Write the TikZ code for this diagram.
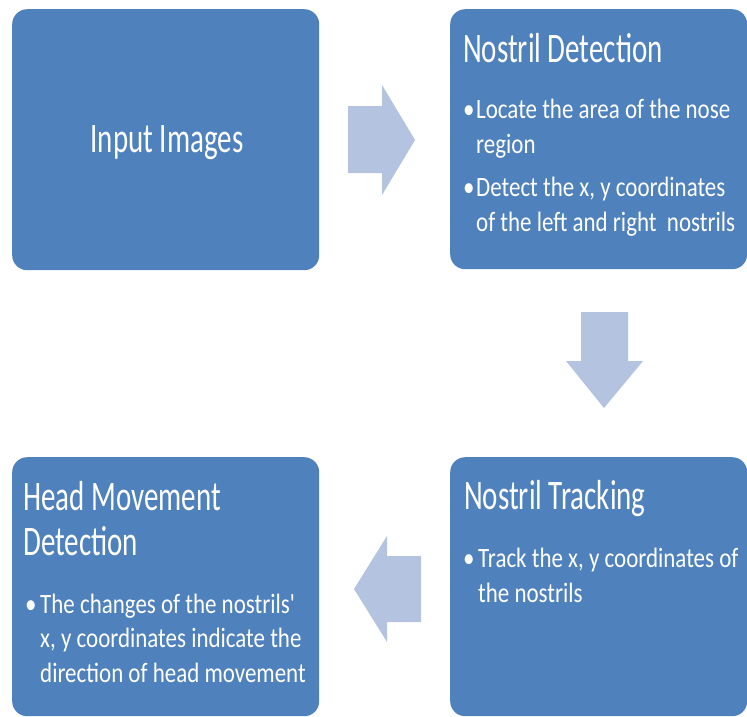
\documentclass[tikz,border=0pt]{standalone}
\usepackage{fontspec}
\newfontfamily\titlefont[FakeStretch=0.69]{Carlito}
\newfontfamily\bodyfont[FakeStretch=0.82]{Carlito}
\definecolor{boxblue}{RGB}{79,129,189}
\definecolor{arrowblue}{RGB}{179,195,224}
\begin{document}
\begin{tikzpicture}[x=1pt,y=-1pt,
  box/.style={fill=boxblue, rounded corners=15pt, anchor=north west, inner sep=0pt},
  ttl/.style={anchor=base west, inner sep=0pt, text=white, font=\titlefont\fontsize{42}{45}\selectfont},
  bul/.style={anchor=base west, inner sep=0pt, text=white, font=\bodyfont\fontsize{28}{35}\selectfont},
  arr/.style={fill=arrowblue}]
\useasboundingbox (0,0) rectangle (747,716);
% boxes
\node[box, minimum width=307pt, minimum height=261pt] (b1) at (12,9) {};
\node[box, minimum width=297pt, minimum height=260pt] (b2) at (450,9) {};
\node[box, minimum width=297pt, minimum height=259pt] (b4) at (450,457) {};
\node[box, minimum width=307pt, minimum height=259pt] (b3) at (12,457) {};
% arrows
\fill[arr] (348,106) -- (382,106) -- (382,85) -- (415,140) -- (382,195) -- (382,173) -- (348,173) -- cycle;
\fill[arr] (581,312) -- (628,312) -- (628,361) -- (643,361) -- (604,408) -- (566,361) -- (581,361) -- cycle;
\fill[arr] (421,556) -- (387,556) -- (387,536) -- (354,589) -- (387,642) -- (387,622) -- (421,622) -- cycle;
% box 1
\node[ttl, anchor=base] (t1) at (167,152) {Input Images};
% box 2
\node[ttl] (t2) at (463,62) {Nostril Detection};
\node[bul] (d1) at (463,118) {•};
\node[bul] (d1a) at (476,118) {Locate the area of the nose};
\node[bul] (d1b) at (476,153) {region};
\node[bul] (d2) at (463,196) {•};
\node[bul] (d2a) at (476,196) {Detect the x, y coordinates};
\node[bul] (d2b) at (476,231) {of the left and right\ \ nostrils};
% box 4
\node[ttl] (t4) at (464,509) {Nostril Tracking};
\node[bul] (k1) at (463,567) {•};
\node[bul] (k1a) at (478,567) {Track the x, y coordinates of};
\node[bul] (k1b) at (478,602) {the nostrils};
% box 3
\node[ttl] (t3a) at (23,510) {Head Movement};
\node[ttl] (t3b) at (23,555) {Detection};
\node[bul] (h1) at (25,613) {•};
\node[bul] (h1a) at (40,613) {The changes of the nostrils'};
\node[bul] (h1b) at (40,647) {x, y coordinates indicate the};
\node[bul] (h1c) at (40,682) {direction of head movement};
\end{tikzpicture}
\end{document}
